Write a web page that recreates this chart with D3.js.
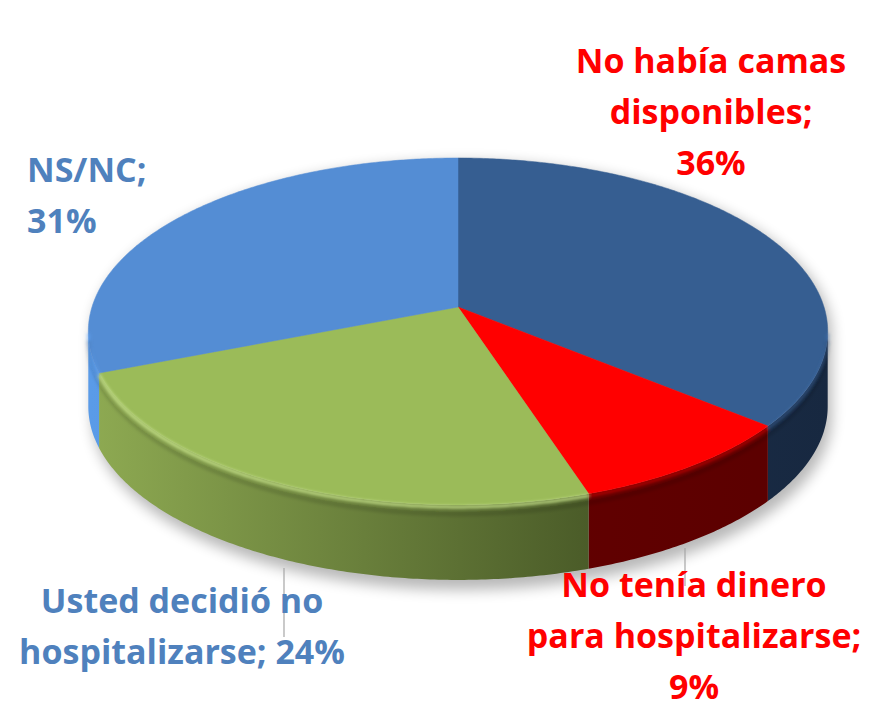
<!DOCTYPE html>
<html>
<head>
<meta charset="utf-8">
<script src="https://cdn.jsdelivr.net/npm/d3@7"></script>
<style>
  html, body { margin:0; padding:0; background:#fff; }
  svg text { font-family: "Open Sans", Lato, sans-serif; font-weight:700; }
</style>
</head>
<body>
<svg id="chart" width="871" height="710"></svg>
<script>
(function(){

const WIDTH = 871, HEIGHT = 710;

// data
const categories = ["No había camas disponibles", "No tenía dinero para hospitalizarse", "Usted decidió no hospitalizarse", "NS/NC"];
const values = [36, 9, 24, 31];
const labelLines = [
  ["No había camas", "disponibles;", "36%"],
  ["No tenía dinero", "para hospitalizarse;", "9%"],
  ["Usted decidió no", "hospitalizarse; 24%"],
  ["NS/NC;", "31%"]
];

const topColors  = ["#365E91", "#FF0000", "#9BBB59", "#548DD4"];
const sideDark   = ["#172840", "#5A0000", "#4A5B28", "#3F74BA"];
const sideLight  = ["#22385A", "#6E0000", "#8EAA52", "#5A9BE8"];
const labelColor = ["#FF0000", "#FF0000", "#4F81BD", "#4F81BD"];

// perspective projection of the unit disc
const CX = 458, CY = 307, A = 366, B = 170, K = 0.141, DEPTH = 75;
function proj(a, r){
  const u = r*Math.sin(a), v = r*Math.cos(a);
  const w = 1 + K*v;
  return [CX + A*u/w, CY - B*v/w];
}
const aRight = Math.acos(-K), aLeft = 2*Math.PI - aRight;

function arcPts(a0, a1, dy){
  const n = Math.max(2, Math.ceil(Math.abs(a1-a0)/0.01));
  return d3.range(n+1).map(i => {
    const p = proj(a0 + (a1-a0)*i/n, 1);
    return [p[0], p[1] + (dy||0)];
  });
}

const pie = d3.pie().sort(null).value(d => d)(values);
const line = d3.line();

const svg = d3.select('#chart');
const defs = svg.append('defs');

defs.append('filter').attr('id','shadow').attr('x','-20%').attr('y','-20%').attr('width','140%').attr('height','140%')
  .append('feGaussianBlur').attr('stdDeviation', 7);
defs.append('filter').attr('id','soft')
  .append('feGaussianBlur').attr('stdDeviation', 1.4);

pie.forEach((d, i) => {
  const g = defs.append('linearGradient').attr('id','side'+i)
    .attr('gradientUnits','userSpaceOnUse')
    .attr('x1', 90).attr('x2', 830).attr('y1',0).attr('y2',0);
  g.append('stop').attr('offset', 0).attr('stop-color', sideLight[i]);
  g.append('stop').attr('offset', i===2 ? 0.68 : 1).attr('stop-color', sideDark[i]);
});

// drop shadow under the whole pie
const shadowPts = arcPts(aRight, aLeft, DEPTH+6).concat(arcPts(aLeft, aRight + 2*Math.PI, 0));
svg.append('path')
  .attr('d', line(shadowPts.map(p => [p[0]+4, p[1]+4])) + 'Z')
  .attr('fill', '#000').attr('opacity', 0.28)
  .attr('filter', 'url(#shadow)');

// side walls (front half only)
const gSide = svg.append('g');
pie.forEach((d, i) => {
  const s0 = Math.max(d.startAngle, aRight), s1 = Math.min(d.endAngle, aLeft);
  if(s1 <= s0) return;
  const topArc = arcPts(s0, s1, 0);
  const botArc = arcPts(s1, s0, DEPTH);
  gSide.append('path')
    .attr('d', line(topArc.concat(botArc)) + 'Z')
    .attr('fill', `url(#side${i})`);
});

// top faces
const gTop = svg.append('g');
pie.forEach((d, i) => {
  const pts = [proj(0,0)].concat(arcPts(d.startAngle, d.endAngle, 0));
  gTop.append('path')
    .attr('d', line(pts) + 'Z')
    .attr('fill', topColors[i])
    .attr('stroke', topColors[i]).attr('stroke-width', 0.5);
});

// bevel highlight along the front rim
const gRim = svg.append('g').attr('filter','url(#soft)');
pie.forEach((d, i) => {
  const s0 = Math.max(d.startAngle, aRight), s1 = Math.min(d.endAngle, aLeft);
  if(s1 <= s0) return;
  gRim.append('path')
    .attr('d', line(arcPts(s0, s1, 2)))
    .attr('fill', 'none')
    .attr('stroke', i===2 ? '#C8E38C' : d3.color(topColors[i]).brighter(0.5))
    .attr('stroke-opacity', i===2 ? 0.9 : 0.5)
    .attr('stroke-width', 3);
  gRim.append('path')
    .attr('d', line(arcPts(s0, s1, 9)))
    .attr('fill', 'none')
    .attr('stroke', '#000')
    .attr('stroke-opacity', 0.12)
    .attr('stroke-width', 5);
});

// leader lines
const leaders = [
  {x: 284, y0: 568, y1: 637},
  {x: 685, y0: 548, y1: 586}
];
svg.append('g').selectAll('line').data(leaders).join('line')
  .attr('x1', d => d.x).attr('x2', d => d.x)
  .attr('y1', d => d.y0).attr('y2', d => d.y1)
  .attr('stroke', '#A6A6A6').attr('stroke-width', 1.2);

// labels
const labelPos = [
  {x: 711, y: 73,  anchor: 'middle'},
  {x: 694, y: 597, anchor: 'middle'},
  {x: 182, y: 613, anchor: 'middle'},
  {x: 27,  y: 182, anchor: 'start'}
];
const LINE_H = 51;
const gLab = svg.append('g');
labelLines.forEach((lines, i) => {
  const t = gLab.append('text')
    .attr('x', labelPos[i].x).attr('y', labelPos[i].y)
    .attr('text-anchor', labelPos[i].anchor)
    .attr('fill', labelColor[i])
    .attr('font-size', 34);
  lines.forEach((s, j) => {
    t.append('tspan').attr('x', labelPos[i].x).attr('y', labelPos[i].y + j*LINE_H).text(s);
  });
});

})();
</script>
</body>
</html>
